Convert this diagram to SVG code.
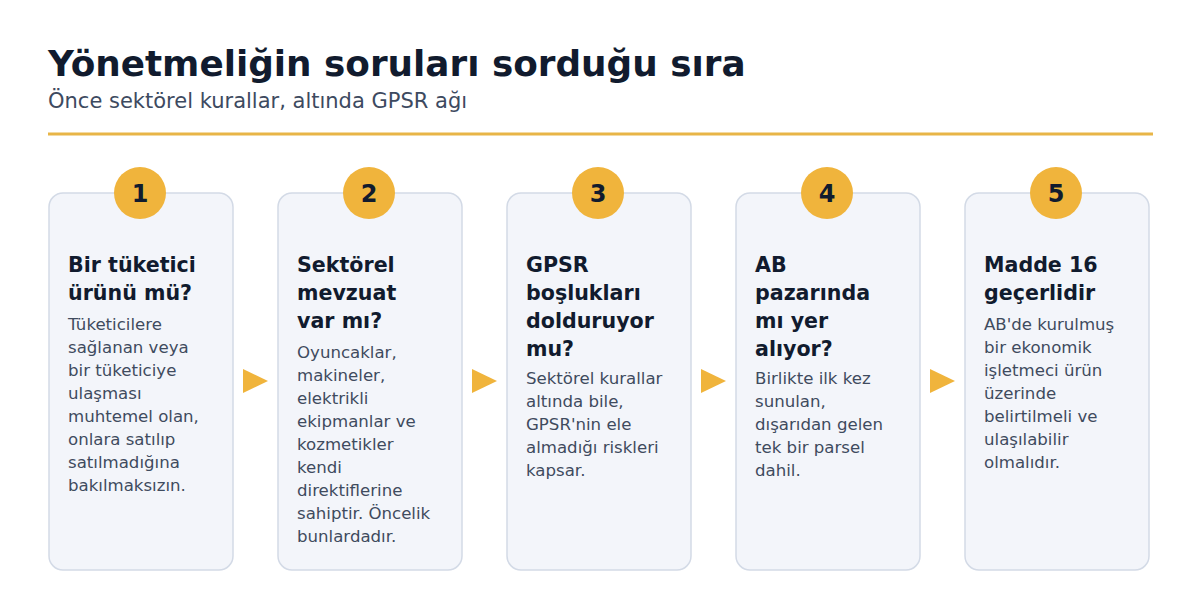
<svg xmlns="http://www.w3.org/2000/svg" width="1200" height="610" viewBox="0 0 1200 610">
<style>
.title{font-family:"DejaVu Sans",sans-serif;font-weight:bold;font-size:35.8px;fill:#111b2e}
.sub{font-family:"DejaVu Sans",sans-serif;font-size:21px;fill:#3d4a60}
.card{fill:#f3f5fa;stroke:#d3dae6;stroke-width:1.5}
.badge{fill:#f0b43c}
.num{font-family:"DejaVu Sans",sans-serif;font-weight:bold;font-size:24px;fill:#111b2e;text-anchor:middle}
.h{font-family:"DejaVu Sans",sans-serif;font-weight:bold;font-size:20.6px;fill:#111b2e}
.b{font-family:"DejaVu Sans",sans-serif;font-size:16.6px;fill:#3f4b5e}
.arr{fill:#f0b43c}
</style>
<rect width="1200" height="610" fill="#ffffff"/>
<text class="title" x="48" y="76">Yönetmeliğin soruları sorduğu sıra</text>
<text class="sub" x="48" y="108">Önce sektörel kurallar, altında GPSR ağı</text>
<rect x="48" y="132.5" width="1105" height="3" fill="#e8b547"/>

<g id="connectors">
<polygon class="arr" points="243,369 268,381 243,393"/>
<polygon class="arr" points="472,369 497,381 472,393"/>
<polygon class="arr" points="701,369 726,381 701,393"/>
<polygon class="arr" points="930,369 955,381 930,393"/>
</g>

<g id="step1">
<rect class="card" x="49" y="193" width="184" height="377" rx="14"/>
<circle class="badge" cx="140" cy="193" r="26"/>
<text class="num" x="140" y="202">1</text>
<text class="h" x="68" y="272">Bir tüketici</text>
<text class="h" x="68" y="300">ürünü mü?</text>
<text class="b" x="68" y="330">Tüketicilere</text>
<text class="b" x="68" y="353">sağlanan veya</text>
<text class="b" x="68" y="376">bir tüketiciye</text>
<text class="b" x="68" y="399">ulaşması</text>
<text class="b" x="68" y="422">muhtemel olan,</text>
<text class="b" x="68" y="445">onlara satılıp</text>
<text class="b" x="68" y="468">satılmadığına</text>
<text class="b" x="68" y="491">bakılmaksızın.</text>
</g>

<g id="step2">
<rect class="card" x="278" y="193" width="184" height="377" rx="14"/>
<circle class="badge" cx="369" cy="193" r="26"/>
<text class="num" x="369" y="202">2</text>
<text class="h" x="297" y="272">Sektörel</text>
<text class="h" x="297" y="300">mevzuat</text>
<text class="h" x="297" y="328">var mı?</text>
<text class="b" x="297" y="358">Oyuncaklar,</text>
<text class="b" x="297" y="381">makineler,</text>
<text class="b" x="297" y="404">elektrikli</text>
<text class="b" x="297" y="427">ekipmanlar ve</text>
<text class="b" x="297" y="450">kozmetikler</text>
<text class="b" x="297" y="473">kendi</text>
<text class="b" x="297" y="496">direktiflerine</text>
<text class="b" x="297" y="519">sahiptir. Öncelik</text>
<text class="b" x="297" y="542">bunlardadır.</text>
</g>

<g id="step3">
<rect class="card" x="507" y="193" width="184" height="377" rx="14"/>
<circle class="badge" cx="598" cy="193" r="26"/>
<text class="num" x="598" y="202">3</text>
<text class="h" x="526" y="272">GPSR</text>
<text class="h" x="526" y="300">boşlukları</text>
<text class="h" x="526" y="328">dolduruyor</text>
<text class="h" x="526" y="356">mu?</text>
<text class="b" x="526" y="384">Sektörel kurallar</text>
<text class="b" x="526" y="407">altında bile,</text>
<text class="b" x="526" y="430">GPSR'nin ele</text>
<text class="b" x="526" y="453">almadığı riskleri</text>
<text class="b" x="526" y="476">kapsar.</text>
</g>

<g id="step4">
<rect class="card" x="736" y="193" width="184" height="377" rx="14"/>
<circle class="badge" cx="827" cy="193" r="26"/>
<text class="num" x="827" y="202">4</text>
<text class="h" x="755" y="272">AB</text>
<text class="h" x="755" y="300">pazarında</text>
<text class="h" x="755" y="328">mı yer</text>
<text class="h" x="755" y="356">alıyor?</text>
<text class="b" x="755" y="384">Birlikte ilk kez</text>
<text class="b" x="755" y="407">sunulan,</text>
<text class="b" x="755" y="430">dışarıdan gelen</text>
<text class="b" x="755" y="453">tek bir parsel</text>
<text class="b" x="755" y="476">dahil.</text>
</g>

<g id="step5">
<rect class="card" x="965" y="193" width="184" height="377" rx="14"/>
<circle class="badge" cx="1056" cy="193" r="26"/>
<text class="num" x="1056" y="202">5</text>
<text class="h" x="984" y="272">Madde 16</text>
<text class="h" x="984" y="300">geçerlidir</text>
<text class="b" x="984" y="330">AB'de kurulmuş</text>
<text class="b" x="984" y="353">bir ekonomik</text>
<text class="b" x="984" y="376">işletmeci ürün</text>
<text class="b" x="984" y="399">üzerinde</text>
<text class="b" x="984" y="422">belirtilmeli ve</text>
<text class="b" x="984" y="445">ulaşılabilir</text>
<text class="b" x="984" y="468">olmalıdır.</text>
</g>
</svg>
